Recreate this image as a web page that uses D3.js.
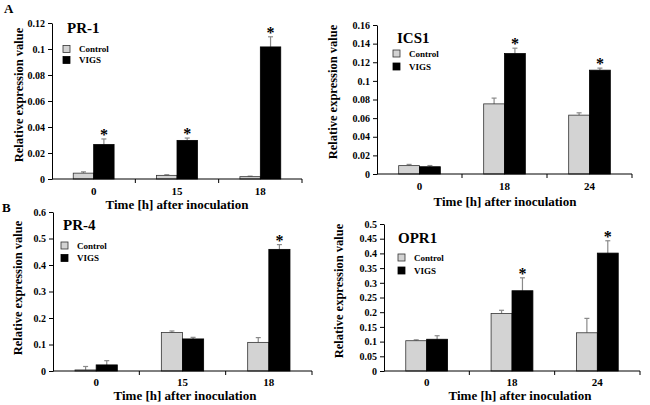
<html>
  <head>
    <meta charset="utf-8">
    <title>Relative expression</title>
    <script type="text/javascript" src="https://cdn.jsdelivr.net/npm/d3@7/dist/d3.min.js"></script>
    <style type="text/css">
      body { margin: 0; background: #fff; }
      svg text { font-family: "Liberation Serif", "Times New Roman", serif; font-weight: bold; fill: #000; }
      .axis path, .axis line { stroke: #000; stroke-width: 1; }
      rect.control { fill: #d3d3d3; stroke: #333; stroke-width: 0.8; }
      rect.vigs { fill: #000; stroke: #000; stroke-width: 0.8; }
      line.err { stroke: #8a8a8a; stroke-width: 1.2; }
    </style>
  </head>
  <body>
    <svg width="650" height="405"></svg>
    <script>
      var series = ['Control', 'VIGS'];
      var timesA = ['0', '15', '18'];
      var timesB = ['0', '18', '24'];

      var pr1Control = [0.0045, 0.0028, 0.0018];
      var pr1ControlErr = [0.001, 0.0005, 0.0004];
      var pr1Vigs = [0.0265, 0.0297, 0.1016];
      var pr1VigsErr = [0.0043, 0.0018, 0.0078];
      var pr1Sig = [true, true, true];
      var pr1Ticks = [0, 0.02, 0.04, 0.06, 0.08, 0.1, 0.12];

      var ics1Control = [0.009, 0.0753, 0.0632];
      var ics1ControlErr = [0.0013, 0.0062, 0.0025];
      var ics1Vigs = [0.0078, 0.1293, 0.1115];
      var ics1VigsErr = [0.0013, 0.0058, 0.0022];
      var ics1Sig = [false, true, true];
      var ics1Ticks = [0, 0.02, 0.04, 0.06, 0.08, 0.1, 0.12, 0.14, 0.16];

      var pr4Control = [0.004, 0.145, 0.108];
      var pr4ControlErr = [0.013, 0.006, 0.018];
      var pr4Vigs = [0.023, 0.121, 0.459];
      var pr4VigsErr = [0.016, 0.006, 0.018];
      var pr4Sig = [false, false, true];
      var pr4Ticks = [0, 0.1, 0.2, 0.3, 0.4, 0.5, 0.6];

      var opr1Control = [0.103, 0.1955, 0.13];
      var opr1ControlErr = [0.003, 0.011, 0.049];
      var opr1Vigs = [0.108, 0.273, 0.401];
      var opr1VigsErr = [0.012, 0.044, 0.042];
      var opr1Sig = [false, true, true];
      var opr1Ticks = [0, 0.05, 0.1, 0.15, 0.2, 0.25, 0.3, 0.35, 0.4, 0.45, 0.5];

      var svg = d3.select('svg');

      function panel(p) {
        var g = svg.append('g');
        var x = d3.scaleBand().domain(p.times).range([p.left, p.right]);
        var y = d3.scaleLinear().domain([0, d3.max(p.ticks)]).range([p.bottom, p.top]);
        var bw = x.bandwidth() * 0.245;

        var rows = p.times.map(function(t, i){
          return [
            {t: t, s: 0, v: p.control[i], e: p.controlErr[i], sig: false},
            {t: t, s: 1, v: p.vigs[i], e: p.vigsErr[i], sig: p.sig[i]}
          ];
        }).flat();
        function bx(d){ return x(d.t) + x.bandwidth() / 2 - bw + d.s * bw; }

        // error bars (upper only)
        var eb = g.selectAll('.eb').data(rows).enter().append('g');
        eb.append('line').attr('class', 'err')
          .attr('x1', function(d){ return bx(d) + bw / 2; })
          .attr('x2', function(d){ return bx(d) + bw / 2; })
          .attr('y1', function(d){ return y(d.v); })
          .attr('y2', function(d){ return y(d.v + d.e); });
        eb.append('line').attr('class', 'err')
          .attr('x1', function(d){ return bx(d) + bw / 2 - 2.5; })
          .attr('x2', function(d){ return bx(d) + bw / 2 + 2.5; })
          .attr('y1', function(d){ return y(d.v + d.e); })
          .attr('y2', function(d){ return y(d.v + d.e); });

        g.selectAll('.bar').data(rows).enter().append('rect')
          .attr('class', function(d){ return d.s ? 'vigs' : 'control'; })
          .attr('x', bx)
          .attr('width', bw)
          .attr('y', function(d){ return y(d.v); })
          .attr('height', function(d){ return y(0) - y(d.v); });

        g.selectAll('.star').data(rows.filter(function(d){ return d.sig; })).enter()
          .append('text')
          .attr('x', function(d){ return bx(d) + bw / 2; })
          .attr('y', function(d){ return y(d.v + d.e) + 1; })
          .attr('text-anchor', 'middle')
          .style('font-size', '16px')
          .text('*');

        // y axis
        g.append('g').attr('class', 'axis')
          .attr('transform', 'translate(' + p.left + ',0)')
          .call(d3.axisLeft(y).tickValues(p.ticks).tickSize(4).tickSizeOuter(0)
            .tickFormat(function(d){ return String(+d.toFixed(2)); }))
          .selectAll('text').style('font-size', '10px').style('font-family', null);

        // x axis: baseline, boundary ticks, labels
        var xa = g.append('g').attr('class', 'axis');
        xa.append('line').attr('x1', p.left).attr('x2', p.right)
          .attr('y1', p.bottom).attr('y2', p.bottom);
        xa.selectAll('.bt').data(p.times).enter().append('line')
          .attr('x1', function(d){ return x(d) + x.bandwidth(); })
          .attr('x2', function(d){ return x(d) + x.bandwidth(); })
          .attr('y1', p.bottom).attr('y2', p.bottom + 4);
        xa.selectAll('.lb').data(p.times).enter().append('text')
          .attr('x', function(d){ return x(d) + x.bandwidth() / 2; })
          .attr('y', p.bottom + p.labelDy)
          .attr('text-anchor', 'middle')
          .style('font-size', '11px')
          .text(function(d){ return d; });

        g.append('text')
          .attr('x', p.xTitleX).attr('y', p.xTitleY)
          .attr('text-anchor', 'middle')
          .style('font-size', '13px')
          .text('Time [h] after inoculation');

        g.append('text')
          .attr('transform', 'translate(' + p.yTitleX + ',' + p.yTitleY + ') rotate(-90)')
          .attr('text-anchor', 'middle')
          .style('font-size', '12.5px')
          .text('Relative expression value');

        g.append('text')
          .attr('x', p.titleX).attr('y', p.titleY)
          .style('font-size', '15px')
          .text(p.title);

        // legend
        var lg = g.selectAll('.lg').data(series).enter().append('g')
          .attr('transform', function(d, i){
            return 'translate(' + p.legX + ',' + (p.legY + i * p.legStep) + ')';
          });
        lg.append('rect').attr('width', 7).attr('height', 7)
          .attr('class', function(d, i){ return i ? 'vigs' : 'control'; });
        lg.append('text').attr('x', 16).attr('y', 6.5)
          .style('font-size', '9px')
          .text(function(d){ return d; });
      }

      panel({title: 'PR-1', times: timesA, control: pr1Control, controlErr: pr1ControlErr,
        vigs: pr1Vigs, vigsErr: pr1VigsErr, sig: pr1Sig, ticks: pr1Ticks,
        left: 52, right: 302, top: 23, bottom: 179, labelDy: 16,
        xTitleX: 177, xTitleY: 209, yTitleX: 23, yTitleY: 95,
        titleX: 67, titleY: 33, legX: 63, legY: 45.5, legStep: 11});

      panel({title: 'ICS1', times: timesB, control: ics1Control, controlErr: ics1ControlErr,
        vigs: ics1Vigs, vigsErr: ics1VigsErr, sig: ics1Sig, ticks: ics1Ticks,
        left: 377, right: 632, top: 25, bottom: 174, labelDy: 16,
        xTitleX: 505, xTitleY: 206, yTitleX: 337, yTitleY: 92,
        titleX: 397, titleY: 43, legX: 393, legY: 50, legStep: 13});

      panel({title: 'PR-4', times: timesA, control: pr4Control, controlErr: pr4ControlErr,
        vigs: pr4Vigs, vigsErr: pr4VigsErr, sig: pr4Sig, ticks: pr4Ticks,
        left: 53, right: 312, top: 212, bottom: 371, labelDy: 15,
        xTitleX: 185, xTitleY: 400, yTitleX: 22, yTitleY: 288,
        titleX: 63, titleY: 230, legX: 61, legY: 242, legStep: 12.5});

      panel({title: 'OPR1', times: timesB, control: opr1Control, controlErr: opr1ControlErr,
        vigs: opr1Vigs, vigsErr: opr1VigsErr, sig: opr1Sig, ticks: opr1Ticks,
        left: 384, right: 640, top: 224, bottom: 371, labelDy: 15,
        xTitleX: 520, xTitleY: 400, yTitleX: 343, yTitleY: 291,
        titleX: 398, titleY: 243, legX: 398, legY: 254, legStep: 13});

      svg.append('text').attr('x', 4).attr('y', 13).style('font-size', '13px').text('A');
      svg.append('text').attr('x', 2).attr('y', 212).style('font-size', '13px').text('B');
    </script>
  </body>
</html>
